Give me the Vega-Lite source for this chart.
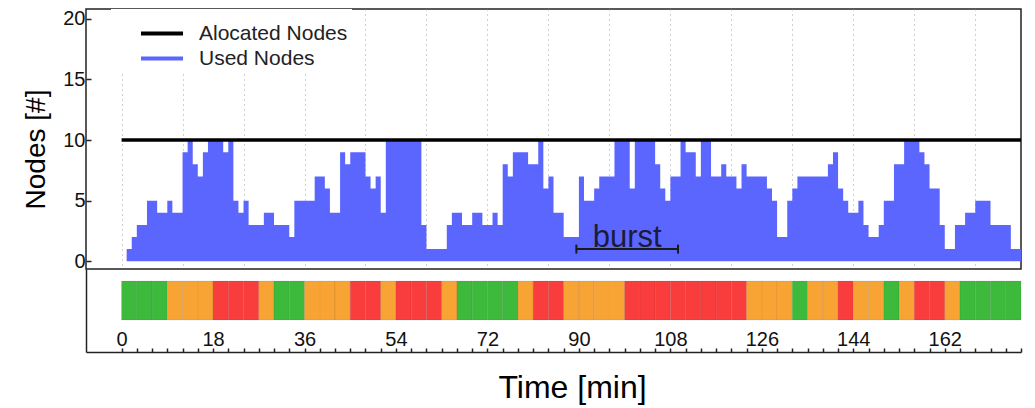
{
  "$schema": "https://vega.github.io/schema/vega-lite/v6.json",
  "background": "white",
  "padding": {"left": 22, "top": 8, "right": 10, "bottom": 4},
  "config": {
    "font": "Liberation Sans",
    "view": {"stroke": null}
  },
  "spacing": 0,
  "bounds": "flush",
  "resolve": {"scale": {"color": "independent", "y": "independent"}, "legend": {"color": "independent"}},
  "datasets": {
    "used": [
      {"t":0,"nodes":0},{"t":1,"nodes":1},{"t":2,"nodes":2},{"t":3,"nodes":3},{"t":4,"nodes":3},{"t":5,"nodes":5},{"t":6,"nodes":5},{"t":7,"nodes":4},{"t":8,"nodes":4},{"t":9,"nodes":5},
      {"t":10,"nodes":4},{"t":11,"nodes":4},{"t":12,"nodes":9},{"t":13,"nodes":10},{"t":14,"nodes":8},{"t":15,"nodes":7},{"t":16,"nodes":9},{"t":17,"nodes":10},{"t":18,"nodes":10},{"t":19,"nodes":10},
      {"t":20,"nodes":9},{"t":21,"nodes":10},{"t":22,"nodes":5},{"t":23,"nodes":4},{"t":24,"nodes":5},{"t":25,"nodes":3},{"t":26,"nodes":3},{"t":27,"nodes":3},{"t":28,"nodes":4},{"t":29,"nodes":4},
      {"t":30,"nodes":3},{"t":31,"nodes":3},{"t":32,"nodes":3},{"t":33,"nodes":2},{"t":34,"nodes":5},{"t":35,"nodes":5},{"t":36,"nodes":5},{"t":37,"nodes":5},{"t":38,"nodes":7},{"t":39,"nodes":7},
      {"t":40,"nodes":6},{"t":41,"nodes":4},{"t":42,"nodes":4},{"t":43,"nodes":9},{"t":44,"nodes":8},{"t":45,"nodes":9},{"t":46,"nodes":9},{"t":47,"nodes":9},{"t":48,"nodes":7},{"t":49,"nodes":6},
      {"t":50,"nodes":7},{"t":51,"nodes":4},{"t":52,"nodes":10},{"t":53,"nodes":10},{"t":54,"nodes":10},{"t":55,"nodes":10},{"t":56,"nodes":10},{"t":57,"nodes":10},{"t":58,"nodes":10},{"t":59,"nodes":3},
      {"t":60,"nodes":1},{"t":61,"nodes":1},{"t":62,"nodes":1},{"t":63,"nodes":1},{"t":64,"nodes":3},{"t":65,"nodes":4},{"t":66,"nodes":4},{"t":67,"nodes":3},{"t":68,"nodes":3},{"t":69,"nodes":4},
      {"t":70,"nodes":4},{"t":71,"nodes":3},{"t":72,"nodes":3},{"t":73,"nodes":4},{"t":74,"nodes":3},{"t":75,"nodes":8},{"t":76,"nodes":7},{"t":77,"nodes":9},{"t":78,"nodes":9},{"t":79,"nodes":9},
      {"t":80,"nodes":8},{"t":81,"nodes":8},{"t":82,"nodes":10},{"t":83,"nodes":6},{"t":84,"nodes":7},{"t":85,"nodes":4},{"t":86,"nodes":4},{"t":87,"nodes":2},{"t":88,"nodes":2},{"t":89,"nodes":2},
      {"t":90,"nodes":7},{"t":91,"nodes":5},{"t":92,"nodes":5},{"t":93,"nodes":6},{"t":94,"nodes":7},{"t":95,"nodes":7},{"t":96,"nodes":7},{"t":97,"nodes":10},{"t":98,"nodes":10},{"t":99,"nodes":10},
      {"t":100,"nodes":6},{"t":101,"nodes":10},{"t":102,"nodes":10},{"t":103,"nodes":10},{"t":104,"nodes":10},{"t":105,"nodes":8},{"t":106,"nodes":6},{"t":107,"nodes":5},{"t":108,"nodes":7},{"t":109,"nodes":7},
      {"t":110,"nodes":10},{"t":111,"nodes":9},{"t":112,"nodes":9},{"t":113,"nodes":7},{"t":114,"nodes":10},{"t":115,"nodes":10},{"t":116,"nodes":7},{"t":117,"nodes":7},{"t":118,"nodes":8},{"t":119,"nodes":7},
      {"t":120,"nodes":7},{"t":121,"nodes":6},{"t":122,"nodes":8},{"t":123,"nodes":7},{"t":124,"nodes":7},{"t":125,"nodes":7},{"t":126,"nodes":7},{"t":127,"nodes":6},{"t":128,"nodes":5},{"t":129,"nodes":2},
      {"t":130,"nodes":2},{"t":131,"nodes":5},{"t":132,"nodes":6},{"t":133,"nodes":7},{"t":134,"nodes":7},{"t":135,"nodes":7},{"t":136,"nodes":7},{"t":137,"nodes":7},{"t":138,"nodes":7},{"t":139,"nodes":8},
      {"t":140,"nodes":9},{"t":141,"nodes":6},{"t":142,"nodes":5},{"t":143,"nodes":4},{"t":144,"nodes":4},{"t":145,"nodes":5},{"t":146,"nodes":3},{"t":147,"nodes":2},{"t":148,"nodes":2},{"t":149,"nodes":3},
      {"t":150,"nodes":5},{"t":151,"nodes":5},{"t":152,"nodes":8},{"t":153,"nodes":8},{"t":154,"nodes":10},{"t":155,"nodes":10},{"t":156,"nodes":10},{"t":157,"nodes":9},{"t":158,"nodes":8},{"t":159,"nodes":6},
      {"t":160,"nodes":6},{"t":161,"nodes":3},{"t":162,"nodes":1},{"t":163,"nodes":1},{"t":164,"nodes":3},{"t":165,"nodes":3},{"t":166,"nodes":4},{"t":167,"nodes":4},{"t":168,"nodes":5},{"t":169,"nodes":5},
      {"t":170,"nodes":5},{"t":171,"nodes":3},{"t":172,"nodes":3},{"t":173,"nodes":3},{"t":174,"nodes":3},{"t":175,"nodes":1},{"t":176,"nodes":1},{"t":177,"nodes":1}
    ],
    "alloc": [{"t":0,"nodes":10},{"t":177,"nodes":10}],
    "burst": [{"label":"burst","start":89.5,"end":109.5,"mid":99.5,"level":1}],
    "status": [
      {"start":0,"end":3,"status":"green"},{"start":3,"end":6,"status":"green"},{"start":6,"end":9,"status":"green"},
      {"start":9,"end":12,"status":"orange"},{"start":12,"end":15,"status":"orange"},{"start":15,"end":18,"status":"orange"},
      {"start":18,"end":21,"status":"red"},{"start":21,"end":24,"status":"red"},{"start":24,"end":27,"status":"red"},
      {"start":27,"end":30,"status":"orange"},
      {"start":30,"end":33,"status":"green"},{"start":33,"end":36,"status":"green"},
      {"start":36,"end":39,"status":"orange"},{"start":39,"end":42,"status":"orange"},{"start":42,"end":45,"status":"orange"},
      {"start":45,"end":48,"status":"red"},{"start":48,"end":51,"status":"red"},
      {"start":51,"end":54,"status":"orange"},
      {"start":54,"end":57,"status":"red"},{"start":57,"end":60,"status":"red"},{"start":60,"end":63,"status":"red"},
      {"start":63,"end":66,"status":"orange"},
      {"start":66,"end":69,"status":"green"},{"start":69,"end":72,"status":"green"},{"start":72,"end":75,"status":"green"},{"start":75,"end":78,"status":"green"},
      {"start":78,"end":81,"status":"orange"},
      {"start":81,"end":84,"status":"red"},{"start":84,"end":87,"status":"red"},
      {"start":87,"end":90,"status":"orange"},{"start":90,"end":93,"status":"orange"},{"start":93,"end":96,"status":"orange"},{"start":96,"end":99,"status":"orange"},
      {"start":99,"end":102,"status":"red"},{"start":102,"end":105,"status":"red"},{"start":105,"end":108,"status":"red"},{"start":108,"end":111,"status":"red"},
      {"start":111,"end":114,"status":"red"},{"start":114,"end":117,"status":"red"},{"start":117,"end":120,"status":"red"},{"start":120,"end":123,"status":"red"},
      {"start":123,"end":126,"status":"orange"},{"start":126,"end":129,"status":"orange"},{"start":129,"end":132,"status":"orange"},
      {"start":132,"end":135,"status":"green"},
      {"start":135,"end":138,"status":"orange"},{"start":138,"end":141,"status":"orange"},
      {"start":141,"end":144,"status":"red"},
      {"start":144,"end":147,"status":"orange"},{"start":147,"end":150,"status":"orange"},
      {"start":150,"end":153,"status":"green"},
      {"start":153,"end":156,"status":"orange"},
      {"start":156,"end":159,"status":"red"},{"start":159,"end":162,"status":"red"},
      {"start":162,"end":165,"status":"orange"},
      {"start":165,"end":168,"status":"green"},{"start":168,"end":171,"status":"green"},{"start":171,"end":174,"status":"green"},{"start":174,"end":177,"status":"green"}
    ]
  },
  "vconcat": [
    {
      "width": 935,
      "height": 260,
      "view": {"stroke": "#222222", "strokeWidth": 1.5},
      "layer": [
        {
          "data": {"name": "used"},
          "mark": {"type": "area", "interpolate": "step-after", "opacity": 1},
          "encoding": {
            "x": {
              "field": "t", "type": "quantitative",
              "scale": {"domain": [-7, 177], "nice": false, "zero": false},
              "axis": {
                "values": [0,3,6,9,12,15,18,21,24,27,30,33,36,39,42,45,48,51,54,57,60,63,66,69,72,75,78,81,84,87,90,93,96,99,102,105,108,111,114,117,120,123,126,129,132,135,138,141,144,147,150,153,156,159,162,165,168,171,174,177],
                "grid": true, "gridDash": [1, 4], "gridColor": "#a0a0a0", "gridWidth": 1,
                "labels": false, "ticks": false, "domain": false, "title": null
              }
            },
            "y": {
              "field": "nodes", "type": "quantitative",
              "scale": {"domain": [-0.64, 20.81], "nice": false, "zero": false},
              "axis": {
                "values": [0, 5, 10, 15, 20],
                "title": "Nodes [#]", "titleFontSize": 28, "titleFontWeight": "normal", "titleColor": "#000000",
                "titlePadding": 12, "titleY": 140,
                "labelFontSize": 20, "labelColor": "#111111", "labelPadding": 6,
                "tickSize": -5, "tickColor": "#222222", "tickWidth": 1.5,
                "domain": false, "grid": false
              }
            },
            "y2": {"datum": 0},
            "color": {
              "datum": "Used Nodes",
              "scale": {"domain": ["Alocated Nodes", "Used Nodes"], "range": ["#000000", "#5b66ff"]},
              "legend": {
                "orient": "none", "legendX": 25, "legendY": 0,
                "title": " ", "titleFontSize": 6, "titlePadding": 2,
                "padding": 4, "fillColor": "white", "strokeColor": null,
                "symbolType": "M-2,0H2", "symbolSize": 441, "symbolStrokeWidth": 4, "symbolOffset": 34.5,
                "labelFontSize": 21, "labelColor": "#222222", "labelOffset": 24.5, "rowPadding": 2,
                "encode": {
                  "symbols": {
                    "update": {
                      "stroke": {"signal": "datum.value === 'Used Nodes' ? '#5b66ff' : '#000000'"},
                      "strokeWidth": {"value": 4}
                    }
                  }
                }
              }
            }
          }
        },
        {
          "data": {"name": "alloc"},
          "mark": {"type": "line", "strokeWidth": 3.5},
          "encoding": {
            "x": {"field": "t", "type": "quantitative"},
            "y": {"field": "nodes", "type": "quantitative"},
            "color": {"datum": "Alocated Nodes"}
          }
        },
        {
          "data": {"name": "burst"},
          "mark": {"type": "rule", "strokeWidth": 2, "color": "#1a1a1a"},
          "encoding": {
            "x": {"field": "start", "type": "quantitative"},
            "x2": {"field": "end"},
            "y": {"field": "level", "type": "quantitative"}
          }
        },
        {
          "data": {"name": "burst"},
          "mark": {"type": "tick", "orient": "vertical", "size": 9, "thickness": 2, "color": "#1a1a1a", "opacity": 1},
          "encoding": {
            "x": {"field": "start", "type": "quantitative"},
            "y": {"field": "level", "type": "quantitative"}
          }
        },
        {
          "data": {"name": "burst"},
          "mark": {"type": "tick", "orient": "vertical", "size": 9, "thickness": 2, "color": "#1a1a1a", "opacity": 1},
          "encoding": {
            "x": {"field": "end", "type": "quantitative"},
            "y": {"field": "level", "type": "quantitative"}
          }
        },
        {
          "data": {"name": "burst"},
          "mark": {"type": "text", "fontSize": 31, "baseline": "alphabetic", "align": "center", "dy": -2, "color": "#1b1b3a"},
          "encoding": {
            "x": {"field": "mid", "type": "quantitative"},
            "y": {"field": "level", "type": "quantitative"},
            "text": {"field": "label"}
          }
        }
      ]
    },
    {
      "width": 935,
      "height": 83,
      "data": {"name": "status"},
      "mark": {"type": "rect", "stroke": "#000000", "strokeOpacity": 0.07, "strokeWidth": 1},
      "encoding": {
        "x": {
          "field": "start", "type": "quantitative",
          "scale": {"domain": [-7, 177], "nice": false, "zero": false},
          "axis": {
            "values": [0,3,6,9,12,15,18,21,24,27,30,33,36,39,42,45,48,51,54,57,60,63,66,69,72,75,78,81,84,87,90,93,96,99,102,105,108,111,114,117,120,123,126,129,132,135,138,141,144,147,150,153,156,159,162,165,168,171,174,177],
            "labelExpr": "datum.value % 18 === 0 ? datum.label : ''",
            "labelOverlap": false, "labelFlush": false,
            "title": "Time [min]", "titleFontSize": 32, "titleFontWeight": "normal", "titleColor": "#000000",
            "titlePadding": 20, "titleX": 486,
            "labelFontSize": 20, "labelColor": "#111111", "labelPadding": -19,
            "tickSize": -4, "tickColor": "#222222", "tickWidth": 1.5,
            "domainColor": "#222222", "domainWidth": 1.5, "grid": false
          }
        },
        "x2": {"field": "end"},
        "y": {
          "datum": "state", "type": "nominal",
          "scale": {"paddingInner": 0, "paddingOuter": 0.564, "align": 0.2727},
          "axis": {"title": null, "labels": false, "ticks": false, "domain": true, "domainColor": "#222222", "domainWidth": 1.5}
        },
        "color": {
          "field": "status", "type": "nominal",
          "scale": {"domain": ["green", "orange", "red"], "range": ["#3dba3c", "#f7a435", "#f93c3c"]},
          "legend": null
        }
      }
    }
  ]
}
